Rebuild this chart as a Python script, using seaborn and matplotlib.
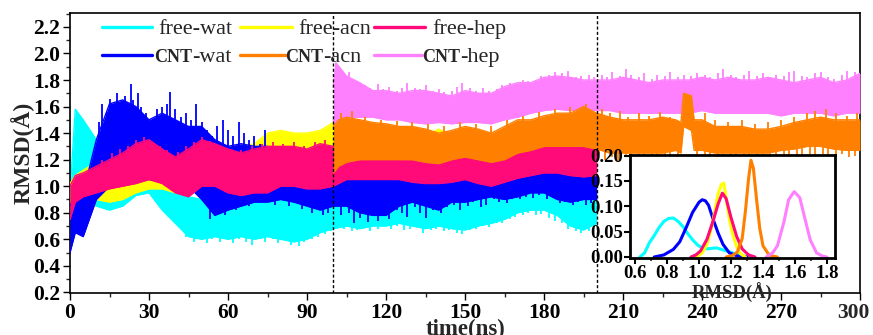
import numpy as np
import pandas as pd
import matplotlib
matplotlib.use("Agg")
import matplotlib.pyplot as plt
from matplotlib.lines import Line2D
from matplotlib.ticker import MultipleLocator, FormatStrFormatter, FuncFormatter
import seaborn as sns

# ---------------- data ----------------
t_free = [0, 2, 5, 10, 15, 20, 25, 30, 35, 40, 45, 50, 55, 60, 65, 70, 75, 80, 85, 90, 95,
          100, 105, 110, 115, 120, 125, 130, 135, 140, 145, 150, 155, 160, 165, 170, 175,
          180, 185, 190, 195, 200]

free_wat_lo = [0.55, 0.80, 0.90, 0.85, 0.82, 0.85, 0.93, 0.95, 0.82, 0.72, 0.62, 0.60, 0.62, 0.60,
               0.62, 0.60, 0.62, 0.60, 0.58, 0.60, 0.65, 0.68, 0.70, 0.68, 0.70, 0.70, 0.72, 0.70,
               0.68, 0.70, 0.68, 0.67, 0.70, 0.72, 0.75, 0.80, 0.82, 0.82, 0.78, 0.70, 0.67, 0.72]
free_wat_hi = [0.95, 1.58, 1.50, 1.35, 1.22, 1.15, 1.20, 1.18, 1.10, 1.00, 0.92, 0.90, 0.92, 0.95,
               0.95, 0.90, 0.92, 0.90, 0.92, 0.95, 0.95, 1.00, 1.02, 1.05, 1.05, 1.05, 1.05, 1.02,
               1.05, 1.05, 1.02, 1.00, 1.00, 1.02, 1.05, 1.05, 1.05, 1.05, 1.00, 1.00, 0.95, 1.00]

free_acn_lo = [0.75, 0.88, 0.95, 0.90, 0.88, 0.90, 0.95, 0.98, 0.98, 0.95, 0.95, 0.97, 0.97, 0.95,
               0.95, 0.97, 1.00, 1.02, 1.02, 1.00, 1.02, 1.05, 1.05, 1.05, 1.05, 1.05, 1.05, 1.05,
               1.05, 1.05, 1.05, 1.05, 1.05, 1.05, 1.05, 1.08, 1.08, 1.10, 1.10, 1.10, 1.10, 1.10]
free_acn_hi = [1.02, 1.08, 1.12, 1.18, 1.20, 1.25, 1.30, 1.30, 1.28, 1.25, 1.28, 1.32, 1.32, 1.30,
               1.30, 1.32, 1.40, 1.42, 1.40, 1.40, 1.42, 1.48, 1.45, 1.38, 1.38, 1.38, 1.38, 1.38,
               1.38, 1.43, 1.38, 1.38, 1.36, 1.36, 1.36, 1.38, 1.38, 1.40, 1.40, 1.40, 1.42, 1.42]

free_hep_lo = [0.75, 0.88, 0.92, 0.95, 0.98, 1.00, 1.02, 1.05, 1.02, 0.95, 0.92, 1.00, 1.00, 0.95,
               0.93, 0.95, 0.95, 1.00, 1.00, 0.98, 0.98, 1.00, 1.05, 1.05, 1.05, 1.05, 1.05, 1.03,
               1.02, 1.02, 1.03, 1.05, 1.02, 1.00, 1.03, 1.06, 1.08, 1.10, 1.10, 1.08, 1.07, 1.08]
free_hep_hi = [1.00, 1.08, 1.10, 1.15, 1.20, 1.25, 1.32, 1.35, 1.28, 1.22, 1.28, 1.35, 1.32, 1.28,
               1.25, 1.28, 1.30, 1.30, 1.30, 1.28, 1.32, 1.30, 1.30, 1.32, 1.32, 1.33, 1.32, 1.30,
               1.30, 1.30, 1.32, 1.32, 1.30, 1.30, 1.30, 1.32, 1.35, 1.35, 1.35, 1.35, 1.37, 1.35]

cnt_wat_lo = [0.50, 0.65, 0.62, 0.90, 1.00, 1.05, 1.05, 1.05, 1.05, 1.00, 1.00, 0.90, 0.78, 0.82,
              0.85, 0.88, 0.88, 0.90, 0.88, 0.85, 0.82, 0.85, 0.85, 0.80, 0.78, 0.78, 0.85, 0.88,
              0.85, 0.82, 0.88, 0.88, 0.90, 0.92, 0.90, 0.92, 0.95, 0.95, 0.90, 0.88, 0.90, 0.90]
cnt_wat_hi = [0.85, 0.95, 0.95, 1.35, 1.62, 1.65, 1.60, 1.50, 1.55, 1.50, 1.45, 1.45, 1.35, 1.30,
              1.32, 1.30, 1.30, 1.25, 1.25, 1.25, 1.20, 1.20, 1.25, 1.30, 1.25, 1.25, 1.25, 1.28,
              1.25, 1.20, 1.25, 1.25, 1.25, 1.25, 1.22, 1.25, 1.25, 1.25, 1.22, 1.22, 1.25, 1.20]

t_cnt_acn = [100, 102, 105, 110, 115, 120, 125, 130, 135, 140, 145, 150, 155, 160, 165, 170, 175,
             180, 185, 190, 195, 200, 205, 210, 215, 220, 225, 230, 232, 233, 236, 237, 240, 245,
             250, 255, 260, 265, 270, 275, 280, 285, 290, 295, 300]
cnt_acn_lo = [1.10, 1.15, 1.18, 1.20, 1.20, 1.20, 1.20, 1.20, 1.18, 1.17, 1.20, 1.22, 1.20, 1.18,
              1.20, 1.25, 1.27, 1.30, 1.30, 1.30, 1.30, 1.28, 1.25, 1.25, 1.25, 1.25, 1.25, 1.27,
              1.25, 1.45, 1.42, 1.27, 1.27, 1.25, 1.25, 1.25, 1.25, 1.25, 1.27, 1.28, 1.30, 1.30,
              1.28, 1.27, 1.27]
cnt_acn_hi = [1.45, 1.50, 1.52, 1.50, 1.48, 1.47, 1.45, 1.45, 1.43, 1.40, 1.42, 1.45, 1.43, 1.40,
              1.45, 1.50, 1.50, 1.53, 1.55, 1.55, 1.60, 1.55, 1.52, 1.50, 1.50, 1.50, 1.52, 1.50,
              1.48, 1.70, 1.68, 1.50, 1.50, 1.45, 1.45, 1.45, 1.43, 1.43, 1.45, 1.48, 1.50, 1.52,
              1.50, 1.50, 1.50]

t_cnt_hep = [100, 101, 105, 110, 115, 120, 125, 130, 135, 140, 145, 150, 155, 160, 165, 170, 175,
             180, 185, 190, 195, 200, 205, 210, 215, 220, 225, 230, 235, 240, 245, 250, 255, 260,
             265, 270, 275, 280, 285, 290, 295, 300]
cnt_hep_lo = [1.50, 1.40, 1.52, 1.52, 1.52, 1.50, 1.50, 1.48, 1.47, 1.48, 1.47, 1.48, 1.48, 1.47,
              1.50, 1.52, 1.55, 1.57, 1.58, 1.57, 1.58, 1.57, 1.57, 1.55, 1.55, 1.55, 1.55, 1.55,
              1.55, 1.57, 1.55, 1.55, 1.55, 1.55, 1.55, 1.53, 1.55, 1.55, 1.55, 1.53, 1.55, 1.55]
cnt_hep_hi = [1.75, 1.93, 1.83, 1.78, 1.72, 1.72, 1.70, 1.72, 1.72, 1.70, 1.68, 1.72, 1.70, 1.70,
              1.75, 1.78, 1.78, 1.82, 1.83, 1.82, 1.80, 1.80, 1.80, 1.82, 1.80, 1.78, 1.80, 1.80,
              1.80, 1.82, 1.80, 1.82, 1.80, 1.80, 1.82, 1.80, 1.78, 1.80, 1.82, 1.78, 1.80, 1.85]

# noise spikes (time, tip value); each drawn from a base inside the band
free_wat_spk_t = [42, 44, 47, 49, 52, 54, 57, 59, 62, 64, 67, 69, 72, 74, 77, 79, 82, 84, 87, 89,
                  92, 94, 97, 99, 102, 104, 107, 109, 112, 114, 117, 119, 122, 124, 127, 129, 132,
                  134, 137, 139, 142, 144, 147, 149, 152, 154, 157, 159, 162, 164, 167, 169, 172,
                  174, 177, 179, 182, 184, 187, 189, 192, 194, 197, 199]
free_wat_spk_v = [0.68, 0.62, 0.58, 0.60, 0.57, 0.60, 0.58, 0.62, 0.57, 0.60, 0.58, 0.56, 0.60,
                  0.58, 0.60, 0.57, 0.59, 0.56, 0.55, 0.58, 0.60, 0.62, 0.64, 0.66, 0.70, 0.68,
                  0.66, 0.67, 0.70, 0.66, 0.68, 0.70, 0.68, 0.70, 0.67, 0.68, 0.70, 0.65, 0.67,
                  0.68, 0.66, 0.67, 0.65, 0.64, 0.67, 0.68, 0.70, 0.69, 0.72, 0.72, 0.75, 0.77,
                  0.78, 0.80, 0.78, 0.79, 0.76, 0.74, 0.72, 0.68, 0.66, 0.65, 0.66, 0.70]
free_wat_spk_base = 0.85

cnt_wat_up_t = [11, 12, 14, 15, 17, 18, 20, 21, 23, 24, 26, 27, 29, 31, 33, 35, 37, 38, 40, 42,
                44, 46, 48, 50, 52, 54, 56, 58, 60, 62, 64, 66, 68, 70, 72, 74]
cnt_wat_up_v = [1.48, 1.62, 1.55, 1.66, 1.60, 1.70, 1.62, 1.68, 1.77, 1.65, 1.70, 1.60, 1.55,
                1.50, 1.58, 1.60, 1.62, 1.71, 1.58, 1.52, 1.55, 1.50, 1.62, 1.48, 1.42, 1.38,
                1.45, 1.50, 1.42, 1.38, 1.48, 1.40, 1.35, 1.38, 1.32, 1.42]
cnt_wat_up_base = 1.20
cnt_wat_dn_t = [53, 56, 59, 63, 68, 72, 78, 83, 88, 92, 96, 98, 101, 103, 106, 108, 110, 113, 115,
                117, 119, 121, 124, 126, 128, 131, 133, 135, 138, 141, 143, 146, 148, 151, 153,
                156, 158, 161, 163, 166, 168, 171, 173, 176, 178, 181, 183, 186, 188, 191, 193,
                196, 198]
cnt_wat_dn_v = [0.75, 0.80, 0.78, 0.82, 0.85, 0.88, 0.86, 0.85, 0.83, 0.80, 0.78, 0.80, 0.85,
                0.78, 0.80, 0.72, 0.76, 0.73, 0.80, 0.74, 0.78, 0.75, 0.82, 0.80, 0.77, 0.84,
                0.80, 0.76, 0.82, 0.80, 0.84, 0.86, 0.82, 0.85, 0.88, 0.84, 0.86, 0.90, 0.88,
                0.87, 0.90, 0.90, 0.92, 0.91, 0.93, 0.90, 0.92, 0.87, 0.88, 0.86, 0.88, 0.86, 0.87]
cnt_wat_dn_base = 1.00

free_hep_spk_t = [12, 16, 19, 22, 25, 28, 31, 34, 37, 41, 44, 47, 50, 53, 57, 61, 65, 69, 73, 77,
                  81, 85, 89, 93, 97]
free_hep_spk_v = [1.20, 1.25, 1.28, 1.30, 1.35, 1.37, 1.33, 1.30, 1.27, 1.26, 1.30, 1.33, 1.37,
                  1.34, 1.30, 1.28, 1.27, 1.30, 1.32, 1.33, 1.32, 1.33, 1.30, 1.33, 1.35]
free_hep_spk_base = 1.10

cnt_hep_spk_t = [101, 102, 104, 106, 108, 110, 112, 114, 117, 119, 121, 124, 126, 128, 131, 133,
                 135, 138, 140, 142, 145, 147, 149, 152, 154, 157, 159, 162, 164, 167, 169, 172,
                 174, 177, 179, 182, 184, 187, 189, 192, 194, 197, 199, 202, 204, 206, 209, 211,
                 213, 216, 218, 221, 223, 226, 228, 231, 233, 236, 238, 241, 243, 246, 248, 251,
                 253, 256, 258, 261, 263, 266, 268, 271, 273, 275, 278, 280, 283, 285, 288, 290,
                 293, 295, 298, 300]
cnt_hep_spk_v = [1.93, 1.85, 1.82, 1.86, 1.80, 1.78, 1.76, 1.74, 1.77, 1.73, 1.75, 1.72, 1.74,
                 1.78, 1.74, 1.73, 1.76, 1.72, 1.73, 1.71, 1.72, 1.75, 1.78, 1.74, 1.72, 1.74,
                 1.72, 1.73, 1.76, 1.78, 1.76, 1.80, 1.79, 1.80, 1.83, 1.84, 1.86, 1.85, 1.87,
                 1.82, 1.83, 1.84, 1.82, 1.84, 1.82, 1.86, 1.83, 1.88, 1.84, 1.82, 1.85, 1.81,
                 1.84, 1.83, 1.86, 1.82, 1.84, 1.83, 1.85, 1.84, 1.82, 1.85, 1.88, 1.84, 1.82,
                 1.84, 1.87, 1.83, 1.85, 1.82, 1.84, 1.83, 1.86, 1.87, 1.83, 1.82, 1.85, 1.86,
                 1.82, 1.81, 1.84, 1.87, 1.86, 1.85]
cnt_hep_spk_base = 1.62

cnt_acn_up_t = [103, 107, 112, 118, 124, 130, 136, 142, 148, 154, 160, 166, 172, 178, 184, 190,
                196, 202, 205, 209, 212, 216, 220, 224, 228, 241, 245, 250, 255, 260, 265, 270,
                275, 280, 283, 287, 291, 295, 299]
cnt_acn_up_v = [1.55, 1.57, 1.52, 1.50, 1.49, 1.48, 1.47, 1.45, 1.48, 1.47, 1.45, 1.50, 1.53,
                1.56, 1.58, 1.60, 1.62, 1.58, 1.55, 1.57, 1.52, 1.55, 1.53, 1.56, 1.52, 1.55,
                1.50, 1.48, 1.50, 1.47, 1.48, 1.50, 1.52, 1.55, 1.57, 1.58, 1.55, 1.53, 1.55]
cnt_acn_up_base = 1.35
cnt_acn_dn_t = [201, 203, 206, 208, 211, 213, 216, 218, 221, 223, 226, 228, 231, 238, 241, 243,
                246, 248, 251, 253, 256, 258, 261, 263, 266, 268, 271, 273, 276, 278, 281, 283,
                286, 288, 291, 293, 296, 298]
cnt_acn_dn_v = [1.24, 1.20, 1.22, 1.18, 1.22, 1.20, 1.23, 1.21, 1.20, 1.22, 1.20, 1.22, 1.19,
                1.22, 1.20, 1.22, 1.20, 1.19, 1.21, 1.22, 1.20, 1.21, 1.22, 1.20, 1.22, 1.21,
                1.22, 1.21, 1.23, 1.22, 1.24, 1.22, 1.24, 1.23, 1.22, 1.24, 1.22, 1.23]
cnt_acn_dn_base = 1.35

# inset: RMSD distributions
d_free_wat_x = [0.63, 0.66, 0.69, 0.72, 0.75, 0.78, 0.81, 0.84, 0.87, 0.90, 0.93, 0.96, 0.99, 1.02,
                1.05, 1.08, 1.11, 1.14, 1.17, 1.20, 1.23, 1.26, 1.30, 1.34]
d_free_wat_y = [0.0, 0.008, 0.028, 0.042, 0.058, 0.070, 0.076, 0.077, 0.070, 0.060, 0.046, 0.034,
                0.024, 0.018, 0.016, 0.017, 0.018, 0.015, 0.012, 0.009, 0.006, 0.003, 0.001, 0.0]
d_free_acn_x = [0.98, 1.02, 1.05, 1.08, 1.10, 1.12, 1.14, 1.155, 1.17, 1.19, 1.21, 1.235, 1.26, 1.29]
d_free_acn_y = [0.0, 0.008, 0.025, 0.060, 0.092, 0.125, 0.143, 0.146, 0.115, 0.075, 0.045, 0.021,
                0.006, 0.0]
d_free_hep_x = [0.95, 0.98, 1.01, 1.05, 1.09, 1.12, 1.146, 1.17, 1.20, 1.235, 1.27, 1.31, 1.35]
d_free_hep_y = [0.0, 0.004, 0.012, 0.035, 0.073, 0.105, 0.126, 0.115, 0.078, 0.041, 0.016, 0.004, 0.0]
d_cnt_wat_x = [0.72, 0.78, 0.84, 0.88, 0.92, 0.96, 1.00, 1.02, 1.04, 1.06, 1.09, 1.12, 1.15, 1.19,
               1.24, 1.30]
d_cnt_wat_y = [0.0, 0.004, 0.015, 0.030, 0.058, 0.088, 0.108, 0.113, 0.111, 0.102, 0.073, 0.047,
               0.025, 0.008, 0.002, 0.0]
d_cnt_acn_x = [1.17, 1.21, 1.24, 1.27, 1.29, 1.31, 1.325, 1.34, 1.36, 1.38, 1.40, 1.44, 1.49]
d_cnt_acn_y = [0.0, 0.003, 0.010, 0.036, 0.090, 0.155, 0.191, 0.175, 0.113, 0.056, 0.022, 0.003, 0.0]
d_cnt_hep_x = [1.42, 1.46, 1.49, 1.53, 1.56, 1.595, 1.63, 1.665, 1.695, 1.735, 1.77, 1.80]
d_cnt_hep_y = [0.0, 0.008, 0.022, 0.068, 0.113, 0.129, 0.117, 0.072, 0.034, 0.008, 0.002, 0.0]

colors = {"free-wat": "#00FFFF", "free-acn": "#FFFF00", "free-hep": "#FF0A78",
          "CNT-wat": "#0000FF", "CNT-acn": "#FF8000", "CNT-hep": "#FF80FF"}

# ---------------- style ----------------
sns.set_theme(style="ticks")
plt.rcParams['font.family'] = ['Liberation Serif', 'DejaVu Serif']
plt.rcParams['axes.edgecolor'] = 'black'

W, H = 873, 335
fig = plt.figure(figsize=(W / 100, H / 100), dpi=100)
AX_L, AX_R, AX_T, AX_B = 70, 860, 13, 293
ax = fig.add_axes([AX_L / W, (H - AX_B) / H, (AX_R - AX_L) / W, (AX_B - AX_T) / H])

bands = [
    ("free-wat", t_free, free_wat_lo, free_wat_hi,
     [(free_wat_spk_t, free_wat_spk_v, free_wat_spk_base)]),
    ("free-acn", t_free, free_acn_lo, free_acn_hi, []),
    ("CNT-wat", t_free, cnt_wat_lo, cnt_wat_hi,
     [(cnt_wat_up_t, cnt_wat_up_v, cnt_wat_up_base), (cnt_wat_dn_t, cnt_wat_dn_v, cnt_wat_dn_base)]),
    ("free-hep", t_free, free_hep_lo, free_hep_hi,
     [(free_hep_spk_t, free_hep_spk_v, free_hep_spk_base)]),
    ("CNT-hep", t_cnt_hep, cnt_hep_lo, cnt_hep_hi,
     [(cnt_hep_spk_t, cnt_hep_spk_v, cnt_hep_spk_base)]),
    ("CNT-acn", t_cnt_acn, cnt_acn_lo, cnt_acn_hi,
     [(cnt_acn_up_t, cnt_acn_up_v, cnt_acn_up_base), (cnt_acn_dn_t, cnt_acn_dn_v, cnt_acn_dn_base)]),
]

for z, (name, t, lo, hi, spikes) in enumerate(bands):
    c = colors[name]
    ax.fill_between(t, lo, hi, color=c, lw=0, zorder=2 + z)
    df = pd.DataFrame({"t": list(t) * 2, "v": list(lo) + list(hi),
                       "edge": ["lo"] * len(t) + ["hi"] * len(t)})
    n0 = len(ax.lines)
    sns.lineplot(data=df, x="t", y="v", units="edge", estimator=None, color=c,
                 lw=1.0, ax=ax, legend=False)
    for ln in ax.lines[n0:]:
        ln.set_zorder(2 + z)
    for st, sv, base in spikes:
        ax.vlines(st, base, sv, color=c, lw=1.3, zorder=2 + z)

for xv in (100, 200):
    ax.axvline(xv, color="black", ls=(0, (2.2, 1.6)), lw=1.0, zorder=20)

ax.set_xlim(0, 300)
ax.set_ylim(0.195, 2.305)
ax.xaxis.set_major_locator(MultipleLocator(30))
ax.xaxis.set_minor_locator(MultipleLocator(15))
# the "300" label sits a little left of its tick in the original; it is drawn separately below
ax.xaxis.set_major_formatter(FuncFormatter(lambda v, p: "" if v >= 300 else f"{v:.0f}"))
ax.yaxis.set_major_locator(MultipleLocator(0.2))
ax.yaxis.set_minor_locator(MultipleLocator(0.1))
ax.yaxis.set_major_formatter(FormatStrFormatter('%.1f'))
ax.tick_params(axis='both', which='major', direction='out', length=5, width=1.0, pad=2,
               colors='black')
ax.tick_params(axis='both', which='minor', direction='out', length=3, width=1.0)
ax.tick_params(axis='y', labelsize=15.5)
ax.tick_params(axis='x', labelsize=15.5)
for lb in ax.get_xticklabels() + ax.get_yticklabels():
    lb.set_fontweight('bold')
for sp in ax.spines.values():
    sp.set_visible(True)
    sp.set_linewidth(1.2)
    sp.set_color('black')
ax.annotate("300", xy=(300, 0), xycoords=('data', 'axes fraction'), xytext=(-4.5, -7),
            textcoords='offset points', ha='center', va='top', fontsize=15.5,
            fontweight='bold', annotation_clip=False)
ax.set_xlabel("time(ns)", fontsize=16.5, fontweight='bold', labelpad=-3)
ax.set_ylabel("RMSD(Å)", fontsize=17, fontweight='bold', labelpad=-1)

# ---------------- legend (two rows, drawn by hand to mimic small-caps "CNT") ----------------
def px2ax(px, py):
    return (px - AX_L) / (AX_R - AX_L), (AX_B - py) / (AX_B - AX_T)

legend_items = [
    ("free-wat", None, "free-wat", 102, 152, 158, 27),
    ("free-acn", None, "free-acn", 240, 292, 298, 27),
    ("free-hep", None, "free-hep", 374, 425, 432, 27),
    ("CNT-wat", "CNT", "-wat", 102, 152, 154, 55),
    ("CNT-acn", "CNT", "-acn", 240, 287, 285, 55),
    ("CNT-hep", "CNT", "-hep", 374, 422, 422, 55),
]
for name, pre, txt, hx0, hx1, tx, ty in legend_items:
    x0, y0 = px2ax(hx0, ty)
    x1, _ = px2ax(hx1, ty)
    ax.add_line(Line2D([x0, x1], [y0, y0], transform=ax.transAxes, color=colors[name],
                       lw=2.4, clip_on=False, zorder=30))
    xt, yt = px2ax(tx, ty + 7)
    if pre is None:
        ax.text(xt, yt, txt, transform=ax.transAxes, fontsize=16, va='baseline', ha='left',
                zorder=30)
    else:
        t1 = ax.text(xt, yt, pre, transform=ax.transAxes, fontsize=13, fontweight='bold',
                     va='baseline', ha='left', zorder=30)
        ax.annotate(txt, xy=(1, 0), xycoords=t1, fontsize=16, va='bottom', ha='left',
                    xytext=(0, -1), textcoords='offset points', zorder=30)

# ---------------- inset ----------------
axin = fig.add_axes([630 / W, (H - 258) / H, 205 / W, 103 / H])
curves = [("free-wat", d_free_wat_x, d_free_wat_y), ("CNT-wat", d_cnt_wat_x, d_cnt_wat_y),
          ("free-acn", d_free_acn_x, d_free_acn_y), ("free-hep", d_free_hep_x, d_free_hep_y),
          ("CNT-acn", d_cnt_acn_x, d_cnt_acn_y), ("CNT-hep", d_cnt_hep_x, d_cnt_hep_y)]
for name, x, y in curves:
    sns.lineplot(x=x, y=y, color=colors[name], lw=2.2, ax=axin, sort=False)
axin.set_xlim(0.569, 1.85)
axin.set_ylim(-0.002, 0.2013)
axin.xaxis.set_major_locator(MultipleLocator(0.2))
axin.xaxis.set_minor_locator(MultipleLocator(0.1))
axin.yaxis.set_major_locator(MultipleLocator(0.05))
axin.xaxis.set_major_formatter(FormatStrFormatter('%.1f'))
axin.yaxis.set_major_formatter(FormatStrFormatter('%.2f'))
axin.tick_params(axis='both', which='major', direction='out', length=4, width=1.5, pad=1,
                 labelsize=13.5, colors='black')
axin.tick_params(axis='both', which='minor', direction='out', length=2.5, width=1.2)
for lb in axin.get_xticklabels() + axin.get_yticklabels():
    lb.set_fontweight('bold')
for sp in axin.spines.values():
    sp.set_visible(True)
    sp.set_linewidth(2.0)
    sp.set_color('black')
axin.set_xlabel("RMSD(Å)", fontsize=13.5, fontweight='bold', labelpad=1)
axin.set_ylabel("")
axin.set_facecolor('white')

fig.savefig("out.png", dpi=100)
